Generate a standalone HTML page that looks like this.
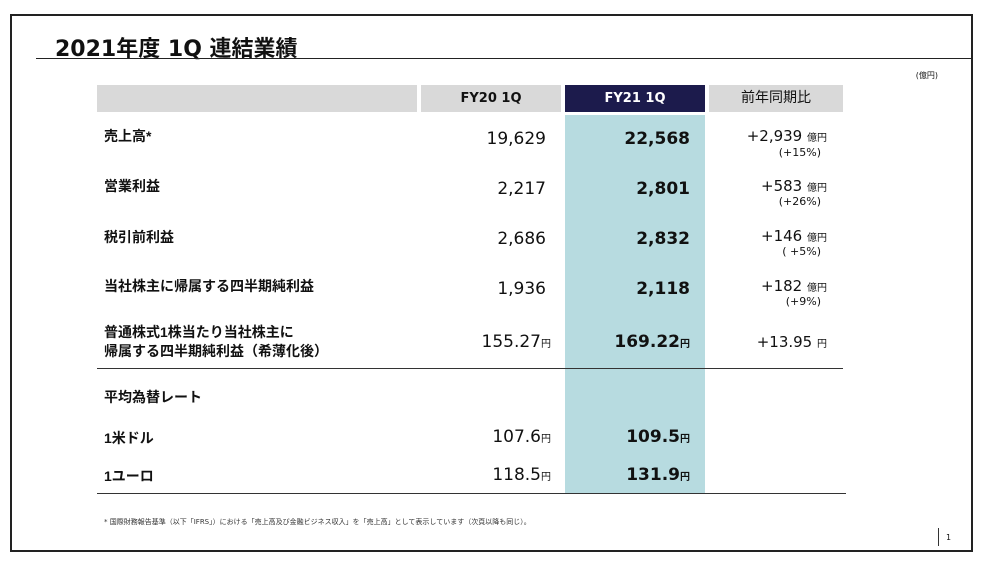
<!DOCTYPE html>
<html><head><meta charset="utf-8"><style>
*{margin:0;padding:0;box-sizing:border-box}
body{width:983px;height:566px;background:#fff;position:relative;overflow:hidden;font-family:"DejaVu Sans","Noto Sans CJK JP",sans-serif;color:#111}
.a{position:absolute;white-space:nowrap}
.frame{position:absolute;left:10px;top:14px;width:963px;height:538px;border:2px solid #222}
.t{font-size:22px;font-weight:bold;left:55px;top:31px}
.lab{font-size:14px;font-weight:bold;left:104px;font-family:"Liberation Sans","Noto Sans CJK JP",sans-serif}
.n2{font-size:17px;right:437px;text-align:right}
.n3{font-size:17px;font-weight:bold;right:293px;text-align:right}
.n4{font-size:15px;right:156px;text-align:right}
.u{font-size:10px}
.p{font-size:11px;right:162px}
</style></head><body>
<div class="frame"></div>
<div class="a t">2021年度 1Q 連結業績</div>
<div class="a" style="left:36px;top:58px;width:937px;height:1px;background:#222"></div>
<div class="a" style="right:45px;top:70px;font-size:8px">(億円)</div>
<div class="a" style="left:97px;top:85px;width:320px;height:27px;background:#d9d9d9"></div>
<div class="a" style="left:421px;top:85px;width:140px;height:27px;background:#d9d9d9;font-size:13px;font-weight:bold;text-align:center;line-height:27px">FY20 1Q</div>
<div class="a" style="left:565px;top:85px;width:140px;height:27px;background:#1c1b4c;color:#fff;font-size:13px;font-weight:bold;text-align:center;line-height:27px">FY21 1Q</div>
<div class="a" style="left:709px;top:85px;width:134px;height:27px;background:#d9d9d9;font-size:14px;text-align:center;line-height:27px">前年同期比</div>
<div class="a" style="left:565px;top:115px;width:140px;height:378px;background:#b7dbe0"></div>
<div class="a" style="left:97px;top:368px;width:746px;height:1px;background:#333"></div>
<div class="a" style="left:97px;top:493px;width:749px;height:1px;background:#333"></div>

<div class="a lab" style="top:126px">売上高*</div>
<div class="a n2" style="top:129px">19,629</div>
<div class="a n3" style="top:129px">22,568</div>
<div class="a n4" style="top:127px">+2,939 <span class="u">億円</span></div>
<div class="a p" style="top:146px">(+15%)</div>

<div class="a lab" style="top:176px">営業利益</div>
<div class="a n2" style="top:179px">2,217</div>
<div class="a n3" style="top:179px">2,801</div>
<div class="a n4" style="top:177px">+583 <span class="u">億円</span></div>
<div class="a p" style="top:195px">(+26%)</div>

<div class="a lab" style="top:227px">税引前利益</div>
<div class="a n2" style="top:229px">2,686</div>
<div class="a n3" style="top:229px">2,832</div>
<div class="a n4" style="top:227px">+146 <span class="u">億円</span></div>
<div class="a p" style="top:245px">( +5%)</div>

<div class="a lab" style="top:276px">当社株主に帰属する四半期純利益</div>
<div class="a n2" style="top:279px">1,936</div>
<div class="a n3" style="top:279px">2,118</div>
<div class="a n4" style="top:277px">+182 <span class="u">億円</span></div>
<div class="a p" style="top:295px">(+9%)</div>

<div class="a lab" style="top:323px;line-height:19px">普通株式1株当たり当社株主に<br>帰属する四半期純利益（希薄化後）</div>
<div class="a n2" style="top:332px;right:432px">155.27<span class="u">円</span></div>
<div class="a n3" style="top:332px">169.22<span class="u">円</span></div>
<div class="a n4" style="top:333px">+13.95 <span class="u">円</span></div>

<div class="a lab" style="top:387px">平均為替レート</div>
<div class="a lab" style="top:428px">1米ドル</div>
<div class="a n2" style="top:427px;right:432px">107.6<span class="u">円</span></div>
<div class="a n3" style="top:427px">109.5<span class="u">円</span></div>
<div class="a lab" style="top:466px">1ユーロ</div>
<div class="a n2" style="top:465px;right:432px">118.5<span class="u">円</span></div>
<div class="a n3" style="top:465px">131.9<span class="u">円</span></div>

<div class="a" style="left:104px;top:517px;font-size:7px;color:#333">* 国際財務報告基準（以下「IFRS」）における「売上高及び金融ビジネス収入」を「売上高」として表示しています（次頁以降も同じ）。</div>
<div class="a" style="left:938px;top:528px;width:1px;height:18px;background:#333"></div>
<div class="a" style="left:946px;top:533px;font-size:8px">1</div>
</body></html>
